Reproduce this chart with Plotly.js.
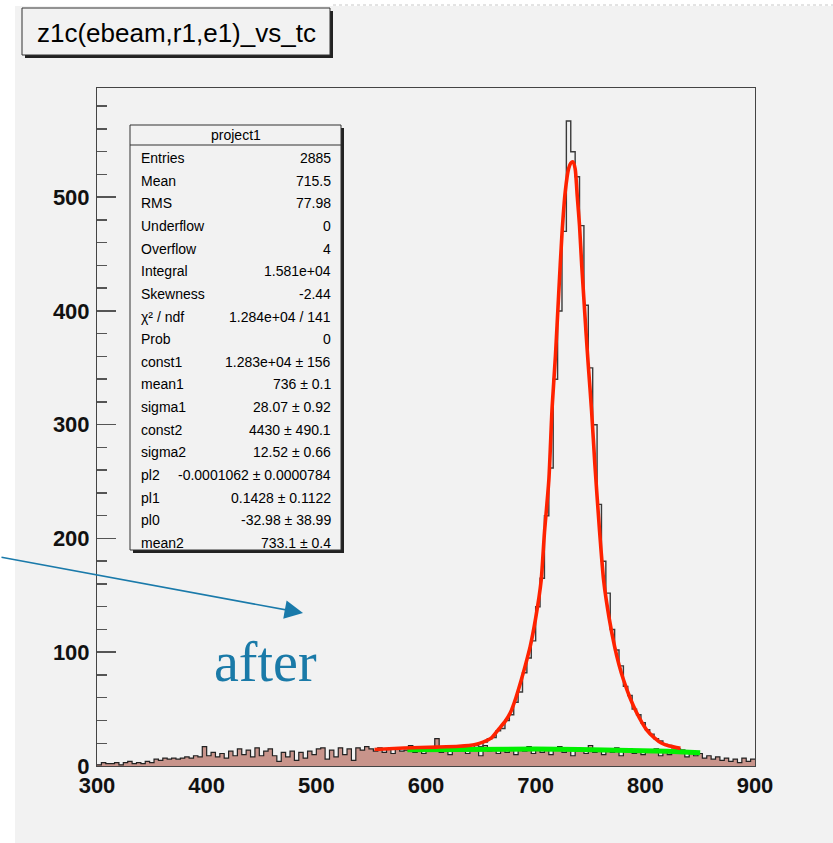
<!DOCTYPE html>
<html><head><meta charset="utf-8">
<script src="https://cdn.plot.ly/plotly-3.0.1.min.js"></script>
<style>html,body{margin:0;padding:0;background:#fff}#chart{width:833px;height:843px}</style>
</head><body><div id="chart"></div><script>
// ---- data ----
const binLo = 300, binW = 4;
const bgCounts = [
  1,3,2,2,3,1,3,4,2,3,
  2,4,3,6,5,7,6,7,6,7,
  8,7,9,8,17,9,12,8,11,7,
  13,9,15,10,14,8,16,9,13,15,
  9,4,12,8,13,5,12,7,13,10,
  15,16,6,14,8,16,10,15,5,16,
  14,17,15,13,16,12,15,11,16,13,
  14,18,12,16,11,15,13,24,12,16,
  10,15,13,17,11,14,16,9,18,13,
  15,11,16,12,14,10,15,13,17,11,
  15,12,16,10,14,17,12,15,9,16,
  13,11,18,12,15,10,14,12,16,9,
  13,15,11,14,10,13,12,15,9,12,
  10,14,11,12,8,13,9,11,7,9,
  6,8,5,7,4,6,3,7,4,6
];
const peakLo = 640;
const peakCounts = [
  16,18,17,21,24,25,31,33,40,45,
  56,65,82,95,110,140,165,220,262,340,
  400,470,567,540,518,475,405,350,300,230,
  180,152,120,102,88,70,62,50,45,38,
  32,28,24,22,19,18,16,15,14,13
];
const fitX = [553,580,610,630,645,652,660,666,672,677,682,687,691,695,700,705,708,712,715,718,721,724,727,730,732,734,736,738,740,742,744,746,748,751,754,758,762,767,772,776,780,786,792,801,808,815,822,832];
const fitY = [14.5,15.8,16.6,17.4,19,21,25,32,39,47,60,76,90,105,130,163,205,251,315,360,415,468,505,525,530,531,525,500,475,440,410,380,352,312,265,210,163,130,105,89,76,60,47,32,25,20,17.5,15.5];
const polyX = [583,620,660,700,740,780,820,850];
const polyY = [14.2,14.7,14.9,14.9,14.6,14.0,13.0,11.7];
const xTicks = [300,400,500,600,700,800,900];
const yTicks = [0,100,200,300,400,500];
const titleText = 'z1c(ebeam,r1,e1)_vs_tc';
const statsHeader = 'project1';
const statsLabels = ['Entries','Mean','RMS','Underflow','Overflow','Integral','Skewness','\u03C7\u00B2 / ndf','Prob','const1','mean1','sigma1','const2','sigma2','pl2','pl1','pl0','mean2'];
const statsValues = ['2885','715.5','77.98','0','4','1.581e+04','-2.44','1.284e+04 / 141','0','1.283e+04 \u00B1 156','736 \u00B1 0.1','28.07 \u00B1 0.92','4430 \u00B1 490.1','12.52 \u00B1 0.66','-0.0001062 \u00B1 0.0000784','0.1428 \u00B1 0.1122','-32.98 \u00B1 38.99','733.1 \u00B1 0.4'];
const noteText = 'after';

// ---- geometry (pixels) ----
const W = 833, H = 843, L = 97, R = 755, T = 88, B = 766;
const px = p => (p - L) / (R - L);
const py = p => (B - p) / (B - T);

function steps(lo, w, vals) {
  const x = [], y = [];
  vals.forEach((v, i) => { x.push(lo + i * w); y.push(v); });
  x.push(lo + vals.length * w); y.push(vals[vals.length - 1]);
  return {x, y};
}
const bg = steps(binLo, binW, bgCounts);
const pk = steps(peakLo, binW, peakCounts);

const traces = [
  {x: bg.x, y: bg.y, type: 'scatter', mode: 'lines', line: {shape: 'hv', color: '#222', width: 1.2},
   fill: 'tozeroy', fillcolor: '#c8948b', hoverinfo: 'skip'},
  {x: pk.x, y: pk.y, type: 'scatter', mode: 'lines', line: {shape: 'hv', color: '#3a3a3a', width: 1.4}, hoverinfo: 'skip'},
  {x: polyX, y: polyY, type: 'scatter', mode: 'lines', line: {color: '#00f000', width: 5}, hoverinfo: 'skip'},
  {x: fitX, y: fitY, type: 'scatter', mode: 'lines', line: {color: '#ff2200', width: 3.6, shape: 'spline', smoothing: 0.6}, hoverinfo: 'skip'}
];

const statsFont = {family: 'Liberation Sans Narrow, Arial Narrow, Liberation Sans, sans-serif', size: 14, color: '#000'};
const annotations = [];
annotations.push({xref: 'paper', yref: 'paper', x: px(176), y: py(33), text: titleText, showarrow: false,
  xanchor: 'center', yanchor: 'middle', font: {family: 'Liberation Sans, Arial, sans-serif', size: 26, color: '#000'}});
annotations.push({xref: 'paper', yref: 'paper', x: px(236), y: py(135), text: statsHeader, showarrow: false,
  xanchor: 'center', yanchor: 'middle', font: statsFont});
const rowTop = 158, rowStep = (543 - 158) / (statsLabels.length - 1);
statsLabels.forEach((lab, i) => {
  const yy = py(rowTop + i * rowStep);
  annotations.push({xref: 'paper', yref: 'paper', x: px(139), y: yy, text: lab, showarrow: false,
    xanchor: 'left', yanchor: 'middle', font: statsFont});
  annotations.push({xref: 'paper', yref: 'paper', x: px(333), y: yy, text: statsValues[i], showarrow: false,
    xanchor: 'right', yanchor: 'middle', font: statsFont});
});
annotations.push({xref: 'paper', yref: 'paper', x: px(303), y: py(613), ax: -303, ay: -56, text: '',
  showarrow: true, arrowhead: 2, arrowsize: 2.3, arrowwidth: 1.6, arrowcolor: '#1a7aaa', standoff: 0, startstandoff: 0});
annotations.push({xref: 'paper', yref: 'paper', x: px(265), y: py(662), text: noteText, showarrow: false,
  xanchor: 'center', yanchor: 'middle', font: {family: 'Liberation Serif, Times New Roman, serif', size: 56, color: '#1a7aa8'}});

const shapes = [
  {type: 'rect', xref: 'paper', yref: 'paper', x0: px(15), x1: px(833), y0: py(843), y1: py(6), fillcolor: '#f2f2f2', line: {width: 0}, layer: 'below'},
  {type: 'line', xref: 'paper', yref: 'paper', x0: px(333), x1: px(833), y0: py(5), y1: py(5), line: {color: '#c8c8c8', width: 1, dash: 'dot'}},
  // title box + shadow
  {type: 'rect', xref: 'paper', yref: 'paper', x0: px(25), x1: px(333), y0: py(58), y1: py(11), fillcolor: '#222', line: {width: 0}},
  {type: 'rect', xref: 'paper', yref: 'paper', x0: px(22), x1: px(330), y0: py(55), y1: py(8), fillcolor: '#f2f2f2', line: {color: '#333', width: 1}},
  // stats box + shadow
  {type: 'rect', xref: 'paper', yref: 'paper', x0: px(133), x1: px(344), y0: py(553), y1: py(128), fillcolor: '#222', line: {width: 0}},
  {type: 'rect', xref: 'paper', yref: 'paper', x0: px(130), x1: px(341), y0: py(550), y1: py(125), fillcolor: '#f2f2f2', line: {color: '#333', width: 1}},
  {type: 'line', xref: 'paper', yref: 'paper', x0: px(130), x1: px(341), y0: py(145), y1: py(145), line: {color: '#333', width: 1}}
];

const tickFont = {family: 'Liberation Sans, Arial, sans-serif', size: 22, color: '#111', weight: 'bold'};
const layout = {
  width: W, height: H, autosize: false,
  margin: {l: L, r: W - R, t: T, b: H - B, pad: 0},
  paper_bgcolor: '#ffffff', plot_bgcolor: '#f2f2f2',
  showlegend: false, hovermode: false,
  xaxis: {range: [300, 900], tickmode: 'array', tickvals: xTicks, ticktext: xTicks.map(String), ticks: '',
    showline: true, mirror: true, linecolor: '#444', linewidth: 1, showgrid: false, zeroline: false,
    tickfont: tickFont, fixedrange: true},
  yaxis: {range: [0, 596], tickmode: 'array', tickvals: yTicks, ticktext: yTicks.map(String),
    ticks: 'inside', ticklen: 19, tickwidth: 1.5, tickcolor: '#555',
    minor: {tickmode: 'linear', tick0: 0, dtick: 20, ticks: 'inside', ticklen: 10, tickwidth: 1.5, tickcolor: '#555', showgrid: false},
    showline: true, mirror: true, linecolor: '#444', linewidth: 1, showgrid: false, zeroline: false,
    tickfont: tickFont, ticklabelstandoff: 2, fixedrange: true},
  shapes: shapes,
  annotations: annotations
};
Plotly.newPlot('chart', traces, layout, {staticPlot: true, displayModeBar: false});
</script></body></html>
